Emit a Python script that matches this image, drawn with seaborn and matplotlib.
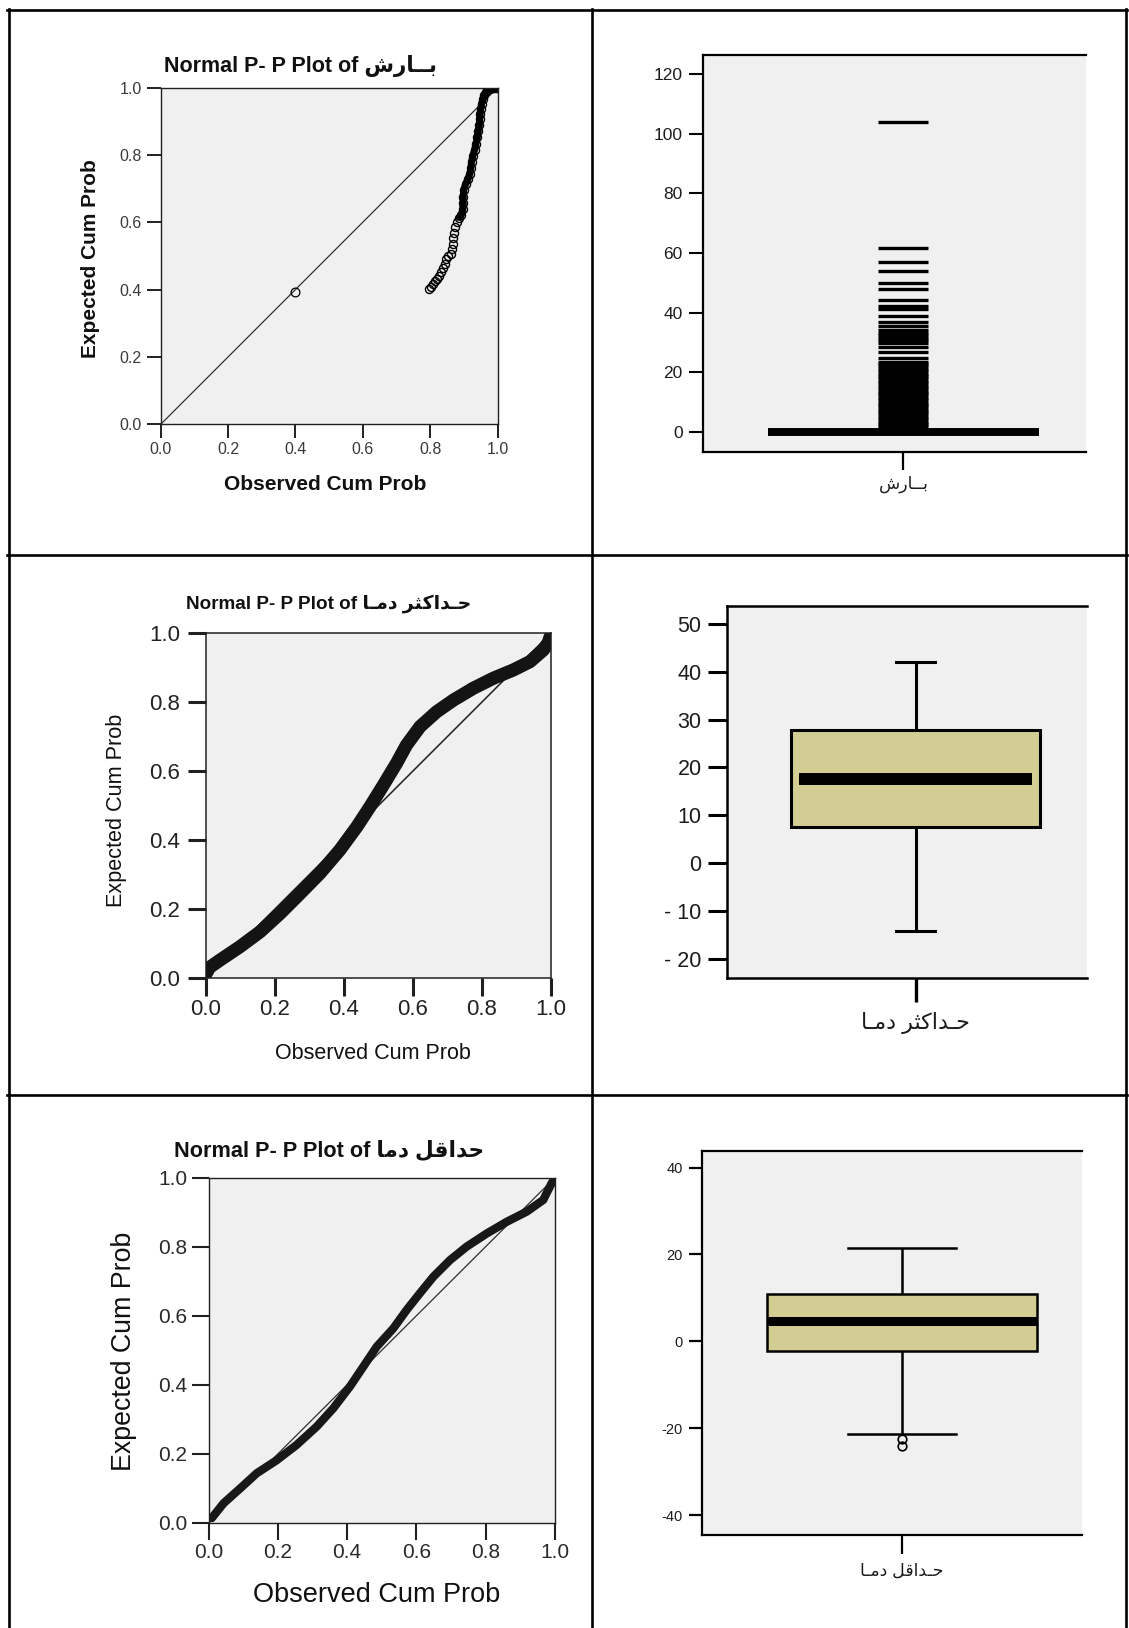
import numpy as np
import matplotlib
matplotlib.use("Agg")
import matplotlib.pyplot as plt
from matplotlib import font_manager
from matplotlib.lines import Line2D
from matplotlib.ft2font import FT2Font
import seaborn as sns

W, H, DPI = 1129, 1628, 100

# ---------------------------------------------------------------- data
pp_ticks = [0.0, 0.2, 0.4, 0.6, 0.8, 1.0]
pp_tick_labels = ["0.0", "0.2", "0.4", "0.6", "0.8", "1.0"]
diag = [0.0, 1.0]

# precipitation P-P plot
precip_zero_obs = [0.398]
precip_zero_exp = [0.393]
precip_obs = [0.797, 0.803, 0.809, 0.815, 0.821, 0.827, 0.833, 0.838, 0.843, 0.848,
              0.854, 0.861, 0.866, 0.868, 0.869, 0.871, 0.874, 0.879, 0.886, 0.893,
              0.897, 0.898, 0.898, 0.900, 0.905, 0.912, 0.918, 0.921, 0.923, 0.927,
              0.932, 0.936, 0.940, 0.943, 0.946, 0.947, 0.948, 0.950, 0.953, 0.957,
              0.961, 0.966, 0.972, 0.979, 0.986, 0.993, 0.999]
precip_exp = [0.401, 0.409, 0.417, 0.424, 0.431, 0.441, 0.452, 0.463, 0.477, 0.491,
              0.500, 0.506, 0.520, 0.536, 0.552, 0.568, 0.585, 0.602, 0.614, 0.622,
              0.638, 0.656, 0.676, 0.696, 0.713, 0.727, 0.744, 0.762, 0.780, 0.798,
              0.815, 0.833, 0.852, 0.870, 0.888, 0.905, 0.921, 0.937, 0.952, 0.966,
              0.978, 0.987, 0.993, 0.997, 0.999, 1.000, 1.000]

# maximum temperature P-P plot
tmax_obs = [0.002, 0.012, 0.042, 0.100, 0.158, 0.216, 0.274, 0.331, 0.389, 0.438,
            0.476, 0.515, 0.553, 0.582, 0.621, 0.669, 0.718, 0.775, 0.833, 0.891,
            0.939, 0.978, 0.992, 0.998]
tmax_exp = [0.014, 0.032, 0.053, 0.092, 0.135, 0.188, 0.246, 0.304, 0.372, 0.439,
            0.497, 0.560, 0.623, 0.676, 0.729, 0.772, 0.806, 0.840, 0.869, 0.893,
            0.917, 0.951, 0.972, 0.990]

# minimum temperature P-P plot
tmin_obs = [0.009, 0.043, 0.091, 0.139, 0.197, 0.254, 0.312, 0.360, 0.408, 0.447,
            0.485, 0.533, 0.572, 0.610, 0.649, 0.697, 0.745, 0.803, 0.861, 0.918,
            0.966, 0.990, 0.998]
tmin_exp = [0.014, 0.057, 0.100, 0.144, 0.182, 0.226, 0.279, 0.332, 0.395, 0.453,
            0.510, 0.563, 0.617, 0.665, 0.713, 0.761, 0.800, 0.838, 0.872, 0.901,
            0.935, 0.983, 0.995]

# precipitation box plot (all non-zero days are outliers)
precip_zero_count = 220
precip_outliers = [104.0, 61.6, 57.1, 54.0, 50.1, 48.0, 44.3, 42.3, 41.1, 39.0,
                   37.0, 35.5, 34.1, 33.3, 32.5, 31.7, 30.9, 29.7, 28.4, 26.7,
                   24.7, 23.6, 22.8, 22.0, 21.2, 20.4, 19.6, 18.8, 18.0, 17.2,
                   16.4, 15.6, 14.8, 13.9, 13.1, 12.3, 11.5, 10.7, 9.9, 9.1,
                   8.3, 7.5, 6.7, 5.9, 5.1, 4.3, 3.5, 2.7, 1.9, 1.1]
precip_ticks = [0, 20, 40, 60, 80, 100, 120]

# maximum temperature box plot
tmax_values = [-14.0, 7.6, 17.5, 27.9, 42.0]
tmax_ticks = [-20, -10, 0, 10, 20, 30, 40, 50]
tmax_tick_labels = ["- 20", "- 10", "0", "10", "20", "30", "40", "50"]

# minimum temperature box plot
tmin_values = [-24.1, -22.5, -21.3, -2.1, 0.0, 2.5, 4.6, 7.0, 9.0, 10.9, 14.0, 18.0, 21.5]
tmin_ticks = [-40, -20, 0, 20, 40]
tmin_tick_labels = ["-40", "-20", "0", "20", "40"]

# ---------------------------------------------------------------- fonts / text
avail = {f.name for f in font_manager.fontManager.ttflist}
SANS = "Liberation Sans" if "Liberation Sans" in avail else "DejaVu Sans"
FAM = [SANS, "DejaVu Sans"]

try:
    _cmap = FT2Font(font_manager.findfont(
        font_manager.FontProperties(family="DejaVu Sans"))).get_charmap()
    KAF_INI = "\uFB90" if 0xFB90 in _cmap else "\uFEDB"
except Exception:
    KAF_INI = "\uFEDB"

# Arabic words in shaped visual order
AR_PRECIP = "\uFEB5\uFEAD\uFE8E\u0640\u0640\uFE91"                                     # بـارش
AR_TMAX = "\uFE8E\u0640\uFEE3\uFEA9 \uFEAE\uFE9C" + KAF_INI + "\uFE8D\uFEAA\u0640\uFEA3"  # حـداکثر دمـا
AR_TMIN_T = "\uFE8E\uFEE3\uFEA9 \uFEDE\uFED7\uFE8D\uFEAA\uFEA3"                        # حداقل دما
AR_TMIN_L = "\uFE8E\u0640\uFEE3\uFEA9 \uFEDE\uFED7\uFE8D\uFEAA\u0640\uFEA3"            # حـداقل دمـا

TITLE = "Normal P- P Plot of "
XLAB = "Observed Cum Prob"
YLAB = "Expected Cum Prob"

BG = "#F0F0F0"
BOX = "#D3CD93"
INK = "#1c1c1c"

fig = plt.figure(figsize=(W / DPI, H / DPI), dpi=DPI)
fig.patch.set_facecolor("white")


def add_ax(l, t, r, b):
    return fig.add_axes([l / W, 1 - b / H, (r - l) / W, (b - t) / H])


def pp_axes(ax, spine_w, tlen, tw, padx, pady, fs, tcolor):
    ax.set_facecolor(BG)
    ax.set_xlim(0, 1)
    ax.set_ylim(0, 1)
    ax.set_xticks(pp_ticks)
    ax.set_yticks(pp_ticks)
    ax.set_xticklabels(pp_tick_labels)
    ax.set_yticklabels(pp_tick_labels)
    for s in ax.spines.values():
        s.set_linewidth(spine_w)
        s.set_color("#202020")
    ax.tick_params(axis="both", direction="out", length=tlen, width=tw,
                   color="#202020", labelsize=fs, labelcolor=tcolor)
    ax.tick_params(axis="x", pad=padx)
    ax.tick_params(axis="y", pad=pady)
    for lab in ax.get_xticklabels() + ax.get_yticklabels():
        lab.set_fontfamily(SANS)
    ax.grid(False)


def box_axes(ax, spine_w, xlim, ylim):
    ax.set_facecolor(BG)
    ax.set_xlim(*xlim)
    ax.set_ylim(*ylim)
    ax.spines["right"].set_visible(False)
    for k in ("left", "top", "bottom"):
        ax.spines[k].set_linewidth(spine_w)
        ax.spines[k].set_color("black")
    ax.grid(False)
    ax.set_xlabel("")
    ax.set_ylabel("")


def box_ticks(ax, yt, ytl, xtl, ylen, yw, ypad, yfs, xlen, xw, xpad, xfs):
    ax.set_yticks(yt)
    ax.set_yticklabels(ytl)
    ax.set_xticks([0])
    ax.set_xticklabels([xtl])
    ax.tick_params(axis="y", direction="out", length=ylen, width=yw, pad=ypad,
                   labelsize=yfs, labelcolor=INK, color="black")
    ax.tick_params(axis="x", direction="out", length=xlen, width=xw, pad=xpad,
                   labelsize=xfs, labelcolor=INK, color="black")
    for lab in ax.get_yticklabels():
        lab.set_fontfamily(SANS)
    for lab in ax.get_xticklabels():
        lab.set_fontfamily(FAM)


def adjust_box_lines(ax, width, cap_w, med_w=None):
    for ln in ax.lines:
        xd = np.asarray(ln.get_xdata(), float)
        yd = np.asarray(ln.get_ydata(), float)
        if len(xd) == 2 and np.isclose(yd[0], yd[1]) and not np.isclose(xd[0], xd[1]):
            span = abs(xd[1] - xd[0])
            c = xd.mean()
            if np.isclose(span, 0.5 * width):
                ln.set_xdata([c - cap_w / 2, c + cap_w / 2])
            elif med_w is not None and np.isclose(span, width):
                ln.set_xdata([c - med_w / 2, c + med_w / 2])


def hollow(ax, x, y, ms, mew, color="black"):
    sns.lineplot(x=x, y=y, ax=ax, estimator=None, sort=False, color=color,
                 linestyle="none", marker="o", markersize=ms,
                 markerfacecolor="none", markeredgecolor=color, markeredgewidth=mew)


def band(ax, x, y, lw, color):
    sns.lineplot(x=x, y=y, ax=ax, estimator=None, sort=False, color=color,
                 linewidth=lw, solid_joinstyle="round", solid_capstyle="round")


# ================================================================ panel 1
ax1 = add_ax(160.7, 87.5, 497.5, 424.3)
sns.lineplot(x=diag, y=diag, ax=ax1, estimator=None, sort=False, color="#303030", linewidth=0.9)
band_start = 18
band(ax1, precip_obs[band_start:], precip_exp[band_start:], 5.0, "black")
hollow(ax1, precip_obs, precip_exp, 5.8, 1.0)
hollow(ax1, precip_zero_obs, precip_zero_exp, 6.3, 0.9)
pp_axes(ax1, 1.0, 9.9, 1.4, 2.9, 3.9, 11.5, "#3a3a3a")
ax1.set_title(TITLE + AR_PRECIP, x=0.4136, y=1.064, va="center", pad=0,
              fontsize=15.5, fontweight="bold", family=FAM, color="#111111")
ax1.set_xlabel(XLAB, va="center", fontsize=15, fontweight="bold", family=FAM, color="#111111")
ax1.xaxis.set_label_coords(0.488, -0.180)
ax1.set_ylabel(YLAB, va="center", fontsize=15, fontweight="bold", family=FAM, color="#111111")
ax1.yaxis.set_label_coords(-0.208, 0.491)

# ================================================================ panel 2
ax2 = add_ax(703.4, 54.6, 1086, 451.8)
precip_values = [0.0] * precip_zero_count + precip_outliers
w2 = 0.707
sns.boxplot(y=precip_values, ax=ax2, color=BOX, saturation=1, width=w2,
            linecolor="black", linewidth=1.6, whis=1.5,
            medianprops=dict(linewidth=5.7),
            flierprops=dict(marker="_", markersize=36.4, markeredgewidth=2.4,
                            markeredgecolor="black"))
adjust_box_lines(ax2, w2, 0.1)
box_axes(ax2, 1.6, (-0.523, 0.477), (-6.6, 126.5))
box_ticks(ax2, precip_ticks, [str(v) for v in precip_ticks], AR_PRECIP,
          10.4, 1.5, 4.4, 12.5, 13, 1.6, 4, 12.5)

# ================================================================ panel 3
ax3 = add_ax(205.5, 633, 551, 978.4)
sns.lineplot(x=diag, y=diag, ax=ax3, estimator=None, sort=False, color="#202020", linewidth=1.1)
band(ax3, tmax_obs, tmax_exp, 9.5, "#141414")
pp_axes(ax3, 1.1, 13, 2.2, 2.0, 5.4, 16, "#222222")
ax3.set_title(TITLE + AR_TMAX, x=0.357, y=1.085, va="center", pad=0,
              fontsize=13.6, fontweight="bold", family=FAM, color="#111111")
ax3.set_xlabel(XLAB, va="center", fontsize=15.5, family=FAM, color="#111111")
ax3.xaxis.set_label_coords(0.485, -0.216)
ax3.set_ylabel(YLAB, va="center", fontsize=15.6, family=FAM, color="#111111")
ax3.yaxis.set_label_coords(-0.257, 0.4876)

# ================================================================ panel 4
ax4 = add_ax(727.5, 605.8, 1087, 978.4)
w4 = 0.695
sns.boxplot(y=tmax_values, ax=ax4, color=BOX, saturation=1, width=w4,
            linecolor="black", linewidth=2.2, whis=1.5,
            medianprops=dict(linewidth=8.6))
adjust_box_lines(ax4, w4, 0.11, 0.646)
box_axes(ax4, 1.8, (-0.523, 0.477), (-23.96, 53.7))
box_ticks(ax4, tmax_ticks, tmax_tick_labels, AR_TMAX,
          13.7, 2.2, 5, 15.5, 17, 2.4, 7, 16)

# ================================================================ panel 5
ax5 = add_ax(208.6, 1177.5, 555, 1523)
sns.lineplot(x=diag, y=diag, ax=ax5, estimator=None, sort=False, color="#303030", linewidth=0.9)
band(ax5, tmin_obs, tmin_exp, 6.0, "#181818")
pp_axes(ax5, 1.0, 12.3, 1.5, 2.0, 2.9, 15, "#2a2a2a")
ax5.set_title(TITLE + AR_TMIN_T, x=0.3476, y=1.074, va="center", pad=0,
              fontsize=15.6, fontweight="bold", family=FAM, color="#111111")
ax5.set_xlabel(XLAB, va="center", fontsize=19.5, family=FAM, color="#111111")
ax5.xaxis.set_label_coords(0.486, -0.207)
ax5.set_ylabel(YLAB, va="center", fontsize=19.3, family=FAM, color="#111111")
ax5.yaxis.set_label_coords(-0.244, 0.496)

# ================================================================ panel 6
ax6 = add_ax(702.4, 1151, 1082.3, 1535.4)
w6 = 0.712
sns.boxplot(y=tmin_values, ax=ax6, color=BOX, saturation=1, width=w6,
            linecolor="black", linewidth=1.8, whis=1.5,
            medianprops=dict(linewidth=6.5),
            flierprops=dict(marker="o", markersize=6.2, markeredgewidth=1.2,
                            markerfacecolor="none", markeredgecolor="black"))
adjust_box_lines(ax6, w6, 0.282)
box_axes(ax6, 1.6, (-0.5254, 0.4746), (-44.6, 43.8))
box_ticks(ax6, tmin_ticks, tmin_tick_labels, AR_TMIN_L,
          9.1, 1.6, 5, 10.5, 14, 1.6, 5.8, 12.5)

# ================================================================ table rules
def fline(x0, y0, x1, y1, lw=1.9):
    fig.add_artist(Line2D([x0 / W, x1 / W], [1 - y0 / H, 1 - y1 / H],
                          transform=fig.transFigure, color="black", linewidth=lw))

fline(7, 10, 1127, 10)
fline(8.5, 9, 8.5, 1628)
fline(591.5, 9, 591.5, 1628)
fline(1125.5, 9, 1125.5, 1628)
fline(7, 555, 1127, 555)
fline(7, 1095, 1127, 1095)

fig.savefig("out.png", dpi=DPI, facecolor="white")
